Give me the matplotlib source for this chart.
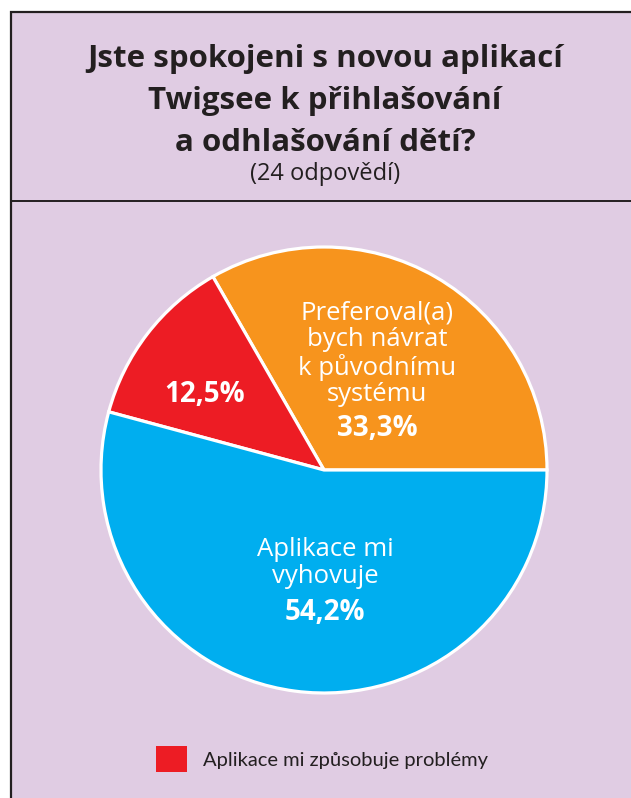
import matplotlib
matplotlib.use("Agg")
import matplotlib.pyplot as plt
from matplotlib.patches import Rectangle, Patch

# data
title_lines = "Jste spokojeni s novou aplikací\nTwigsee k přihlašování\na odhlašování dětí?"
subtitle = "(24 odpovědí)"
categories = ["Preferoval(a) bych návrat k původnímu systému",
              "Aplikace mi způsobuje problémy",
              "Aplikace mi vyhovuje"]
values = [33.3, 12.5, 54.2]
pct_labels = ["33,3%", "12,5%", "54,2%"]
colors = ["#f7941d", "#ed1c24", "#00aeef"]

W, H = 631, 798
bg = "#e0cce3"
ink = "#231f20"

fig = plt.figure(figsize=(W / 100, H / 100), dpi=100)
fig.patch.set_facecolor("white")

# panel background and frame (behind everything)
fig.patches.append(Rectangle((11 / W, -0.02), 1.05, 1.02 - 12 / H, transform=fig.transFigure,
                             facecolor=bg, edgecolor=ink, linewidth=1.6, zorder=-5))
fig.add_artist(plt.Line2D([11 / W, 1], [1 - 201 / H, 1 - 201 / H],
                          transform=fig.transFigure, color=ink, linewidth=1.4))

fig.text(325 / W, 1 - 101 / H, title_lines, ha="center", va="center",
         fontsize=22.5, fontweight="bold", family="Open Sans", color=ink,
         linespacing=1.52)
fig.text(325 / W, 1 - 174 / H, subtitle, ha="center", va="center",
         fontsize=17, family="Open Sans", color=ink)

# pie, radius 223px centered at (324, 470)
cx, cy, r = 324, 470, 223
ax = fig.add_axes([(cx - r) / W, (H - cy - r) / H, 2 * r / W, 2 * r / H])
ax.patch.set_visible(False)
wedges, _ = ax.pie(values, colors=colors, startangle=0, counterclock=True,
                   radius=1, wedgeprops=dict(edgecolor="white", linewidth=2.3))
ax.set_xlim(-1.0, 1.0)
ax.set_ylim(-1.0, 1.0)
ax.set_aspect("equal")
ax.axis("off")


def px(x, y):
    return (x - cx) / r, (cy - y) / r


lab_font = dict(family="Open Sans", color="white", ha="center", va="center")
ax.text(*px(377, 354), "Preferoval(a)\nbych návrat\nk původnímu\nsystému",
        fontsize=18.5, linespacing=1.08, **lab_font)
ax.text(*px(377, 428), pct_labels[0], fontsize=20, fontweight="bold", **lab_font)
ax.text(*px(205, 395), pct_labels[1], fontsize=20, fontweight="bold", **lab_font)
ax.text(*px(325, 563), "Aplikace mi\nvyhovuje", fontsize=18.5, linespacing=1.08, **lab_font)
ax.text(*px(325, 613), pct_labels[2], fontsize=20, fontweight="bold", **lab_font)

# legend for the red slice only
leg = fig.legend(handles=[Patch(facecolor=colors[1], edgecolor="none")],
                 labels=[categories[1]], loc="center left",
                 bbox_to_anchor=(138 / W, 1 - 759 / H), frameon=False,
                 handlelength=1.55, handleheight=1.55, handletextpad=0.8,
                 prop=dict(family="Lato", size=14.5))
for t in leg.get_texts():
    t.set_color(ink)

fig.savefig("out.png", dpi=100, facecolor=fig.get_facecolor())
